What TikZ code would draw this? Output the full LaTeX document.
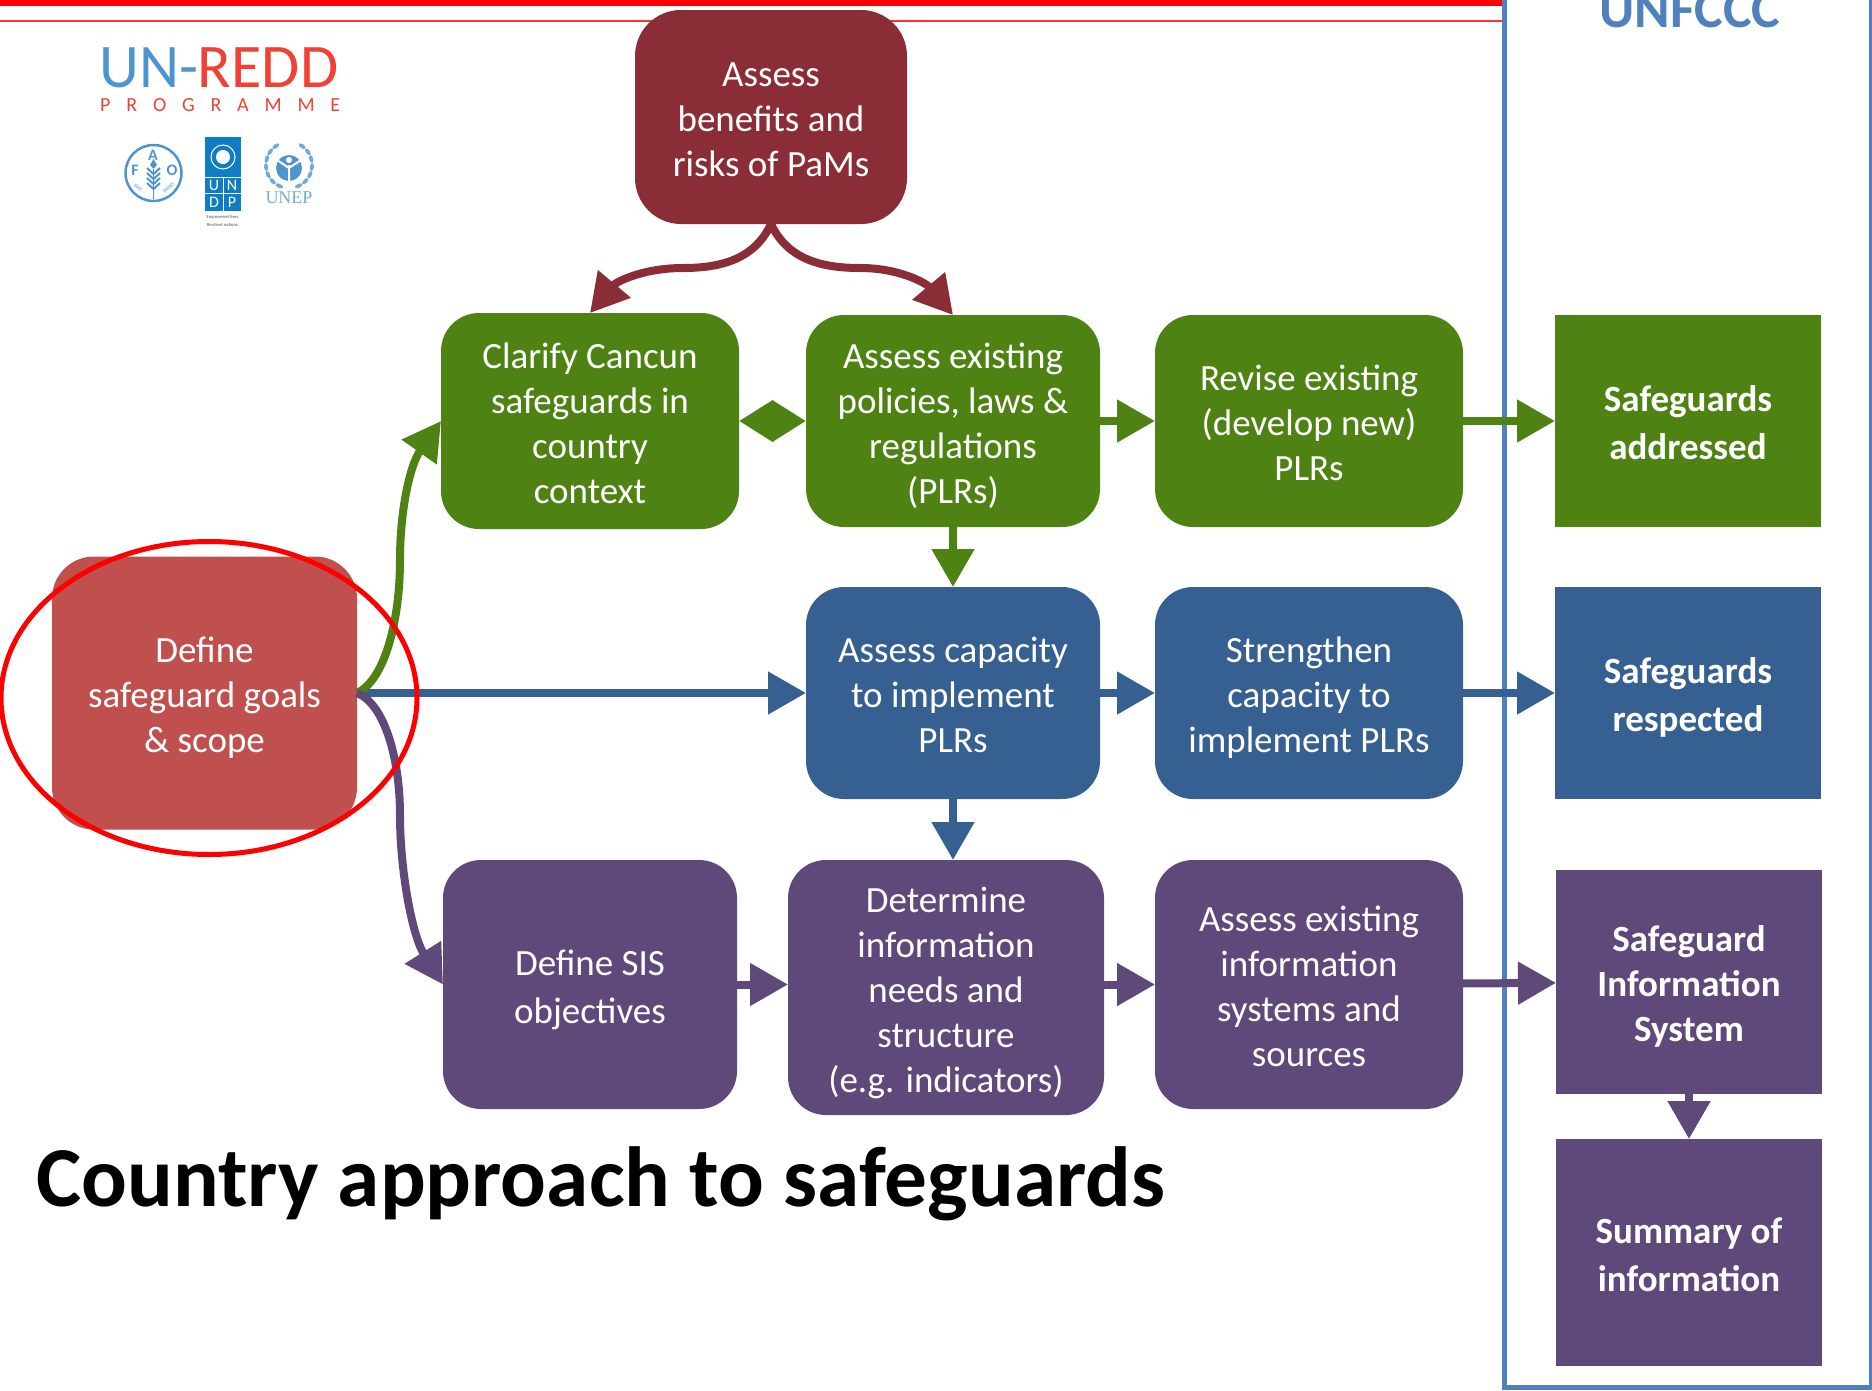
\documentclass[tikz,border=0pt]{standalone}
\usepackage{fontspec}
\setmainfont{Carlito}
\newfontfamily\unepfont{Liberation Serif}
\usetikzlibrary{positioning,arrows.meta,shapes.geometric}
\definecolor{greenc}{HTML}{4E8314}
\definecolor{bluec}{HTML}{376092}
\definecolor{purplec}{HTML}{5F497A}
\definecolor{maroonc}{HTML}{8A2D36}
\definecolor{redc}{HTML}{C0504D}
\definecolor{framec}{HTML}{4F81BD}
\definecolor{logoblue}{HTML}{4E95D0}
\definecolor{logored}{HTML}{EF4136}
\definecolor{undpblue}{HTML}{0F7DC2}
\newcommand{\linestrut}{\rule[-9pt]{0pt}{47.4pt}}

\begin{document}
\begin{tikzpicture}[x=1pt,y=-1pt,
    card/.style={rectangle,rounded corners=38pt,inner sep=0pt,outer sep=0pt,text=white,align=center,font=\fontsize{37}{45}\selectfont},
    outcome/.style={rectangle,inner sep=0pt,outer sep=0pt,text=white,align=center,minimum width=266pt,font=\fontsize{37}{45}\selectfont\bfseries},
    flow/.style={line width=8pt,-{Triangle[length=38pt,width=41pt]}}] %
    \useasboundingbox (0,0) rectangle (1872,1390); %
    % header rules and the UNFCCC column
    \fill[red] (0,0) rectangle (1504,6); %
    \draw[line width=2pt,red!80] (0,21) -- (1504,21); %
    \draw[line width=5pt,framec] (1504.5,-10) rectangle (1871,1387); %
    \node[text=framec,font=\fontsize{54}{60}\selectfont\bfseries,anchor=base] (unfccc) at (1690,27) {UNFCCC}; %
    % logo
    \node[anchor=base west,inner sep=0pt,font=\fontsize{62}{70}\selectfont] (unredd) at (99,87) {\textcolor{logoblue}{UN-}\textcolor{logored}{REDD}}; %
    \node[anchor=base west,inner sep=0pt,text=logored,font=\fontsize{20}{24}\selectfont] (programme) at (100,111) {\makebox[240pt][s]{P\hfil R\hfil O\hfil G\hfil R\hfil A\hfil M\hfil M\hfil E}}; %
    \node[circle,draw=logoblue,line width=2.5pt,minimum size=56pt,inner sep=0pt] (fao) at (153.5,173) {}; %
    \node[text=logoblue,inner sep=0pt,font=\fontsize{16}{16}\selectfont\bfseries] (faoa) at (153,155) {A}; %
    \node[text=logoblue,inner sep=0pt,font=\fontsize{16}{16}\selectfont\bfseries] (faof) at (135,170) {F}; %
    \node[text=logoblue,inner sep=0pt,font=\fontsize{16}{16}\selectfont\bfseries] (faoo) at (172,170) {O}; %
    \fill[logoblue] (153.5,159) -- (157,165) -- (153.5,169) -- (150,165) -- cycle; %
    \draw[logoblue,line width=1.5pt] (153.5,169) -- (153.5,199); %
    \foreach \k in {0,1,2,3} {\draw[logoblue,line width=2pt] (147,168+5*\k) -- (153.5,174+5*\k) -- (160,168+5*\k);} %
    \node[text=logoblue,inner sep=0pt,rotate=-40,font=\fontsize{5.5}{5.5}\selectfont] (faofiat) at (138,188) {FIAT}; %
    \node[text=logoblue,inner sep=0pt,rotate=40,font=\fontsize{5.5}{5.5}\selectfont] (faopanis) at (169,188) {PANIS}; %
    \fill[undpblue] (205,137) rectangle (241,211); %
    \draw[white,line width=1pt] (223,157) circle (12pt); %
    \fill[white] (223,157) circle (7pt); %
    \draw[white,line width=.7pt] (205,177) -- (241,177) (205,193) -- (241,193) (223,177) -- (223,211); %
    \node[text=white,inner sep=0pt,font=\fontsize{16}{16}\selectfont] (undpu) at (214,185) {U}; %
    \node[text=white,inner sep=0pt,font=\fontsize{16}{16}\selectfont] (undpn) at (232,185) {N}; %
    \node[text=white,inner sep=0pt,font=\fontsize{16}{16}\selectfont] (undpd) at (214,202) {D}; %
    \node[text=white,inner sep=0pt,font=\fontsize{16}{16}\selectfont] (undpp) at (232,202) {P}; %
    \node[inner sep=0pt,align=center,text=black!70,font=\fontsize{4.6}{7.5}\selectfont] (undptag) at (223,221) {Empowered lives.\\Resilient nations.}; %
    \foreach \a in {125,145,...,245,295,315,...,415} {\fill[logoblue!80,shift={(289,165)},rotate=\a] (23pt,0pt) ellipse (2pt and 4pt);} %
    \fill[logoblue] (289,168) circle (13pt); %
    \draw[white,line width=2pt] (289,165) -- (289,181) (277,160) -- (289,168) -- (301,160); %
    \fill[white] (289,160) circle (3pt); %
    \node[anchor=base,inner sep=0pt,text=logoblue!80,font=\fontsize{18}{18}\selectfont\unepfont] (unep) at (289,203) {UNEP}; %
    % boxes
    \node[card,fill=greenc,minimum width=294pt,minimum height=212pt] (plr) at (953,421) {\linestrut Assess existing\\policies, laws \&\\regulations\\(PLRs)\linestrut}; %
    \node[card,fill=greenc,minimum width=298pt,minimum height=216pt,left=67pt of plr] (clarify) {\linestrut Clarify Cancun\\safeguards in\\country\\context\linestrut}; %
    \node[card,fill=greenc,minimum width=308pt,minimum height=212pt,right=55pt of plr] (revise) {\linestrut Revise existing\\(develop new)\\PLRs\linestrut}; %
    \node[outcome,fill=greenc,minimum height=212pt,right=92pt of revise] (addressed) {\linestrut Safeguards\\addressed\linestrut}; %
    \node[card,fill=maroonc,rounded corners=46pt,minimum width=272pt,minimum height=214pt,above=91pt of plr,xshift=-182pt] (pams) {\linestrut Assess\\benefits and\\risks of PaMs\linestrut}; %
    \node[card,fill=bluec,minimum width=294pt,minimum height=212pt,below=60pt of plr] (capacity) {\linestrut Assess capacity\\to implement\\PLRs\linestrut}; %
    \node[card,fill=bluec,minimum width=308pt,minimum height=212pt,right=55pt of capacity] (strengthen) {\linestrut Strengthen\\capacity to\\implement PLRs\linestrut}; %
    \node[outcome,fill=bluec,minimum height=212pt,right=92pt of strengthen] (respected) {\linestrut Safeguards\\respected\linestrut}; %
    \node[card,fill=redc,rounded corners=42pt,minimum width=305pt,minimum height=273pt,left=449pt of capacity] (define) {\linestrut Define\\safeguard goals\\\& scope\linestrut}; %
    \node[card,fill=purplec,minimum width=316pt,minimum height=255pt,below=61pt of capacity,xshift=-7pt] (needs) {\linestrut Determine\\information\\needs and\\structure\\(e.g. indicators)\linestrut}; %
    \node[card,fill=purplec,minimum width=294pt,minimum height=249pt,left=51pt of needs,yshift=3pt] (objectives) {\linestrut Define SIS\\objectives\linestrut}; %
    \node[card,fill=purplec,minimum width=308pt,minimum height=249pt,right=51pt of needs,yshift=3pt] (sources) {\linestrut Assess existing\\information\\systems and\\sources\linestrut}; %
    \node[outcome,fill=purplec,minimum height=224pt,right=93pt of sources,yshift=2.5pt] (sis) {\linestrut Safeguard\\Information\\System\linestrut}; %
    \node[outcome,fill=purplec,minimum height=227pt,below=45pt of sis] (summary) {\linestrut Summary of\\information\linestrut}; %
    % connectors
    \coordinate (pamsl) at (683,268); %
    \coordinate (pamsr) at (860,268); %
    \draw[flow,maroonc] (pams.south) to[out=-115,in=0] (pamsl) to[out=180,in=50] (clarify.north); %
    \draw[flow,maroonc] (pams.south) to[out=-65,in=180] (pamsr) to[out=0,in=130] (plr.north); %
    \draw[line width=8pt,greenc,{Triangle[length=34pt,width=40pt]}-{Triangle[length=34pt,width=40pt]}] (clarify.east) -- (plr.west); %
    \draw[flow,greenc] (plr) -- (revise); %
    \draw[flow,greenc] (revise) -- (addressed); %
    \draw[flow,greenc] (plr) -- (capacity); %
    \draw[flow,bluec] (define) -- (capacity); %
    \draw[flow,bluec] (capacity) -- (strengthen); %
    \draw[flow,bluec] (strengthen) -- (respected); %
    \draw[flow,bluec] (capacity.south) -- (capacity.south |- needs.north); %
    \draw[flow,purplec] (objectives.east) -- (needs.west |- objectives.east); %
    \draw[flow,purplec] (needs.east |- sources.west) -- (sources.west); %
    \draw[flow,purplec] (sources) -- (sis); %
    \draw[flow,purplec] (sis) -- (summary); %
    \coordinate (greenmid) at (400,560); %
    \coordinate (purplemid) at (400,815); %
    \draw[flow,greenc] (define.east) .. controls (385,680) and (400,620) .. (greenmid) .. controls (400,510) and (410,465) .. (clarify.west); %
    \draw[flow,purplec] (define.east) .. controls (385,704) and (400,760) .. (purplemid) .. controls (400,870) and (412,935) .. (objectives.west); %
    % highlight round the first step
    \node[ellipse,draw=red,line width=5pt,minimum width=416pt,minimum height=313pt,inner sep=0pt] (focus) at (209,698) {}; %
    \node[anchor=base west,inner sep=0pt,font=\fontsize{85.3}{90}\selectfont\bfseries] (title) at (36,1206) {Country approach to safeguards}; %
\end{tikzpicture}
\end{document}
